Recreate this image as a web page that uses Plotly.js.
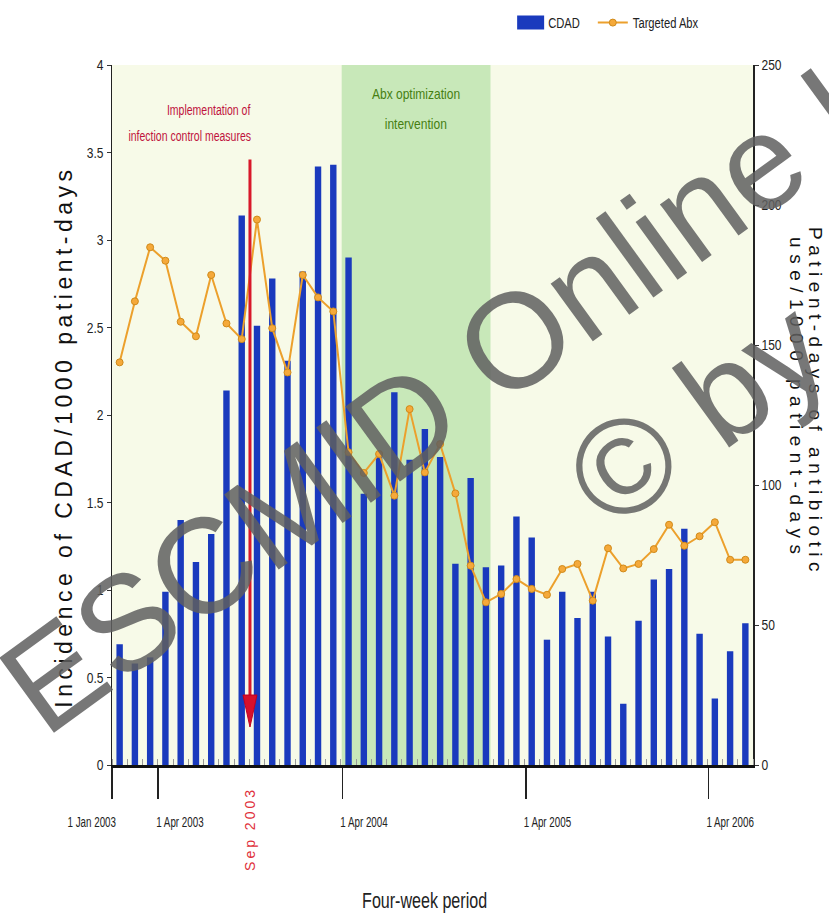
<!DOCTYPE html>
<html>
<head>
<meta charset="utf-8">
<script src="https://cdn.plot.ly/plotly-3.0.1.min.js"></script>
<style>
  html, body { margin: 0; padding: 0; background: #ffffff; }
  #chart { width: 829px; height: 919px; }
</style>
</head>
<body>
<div id="chart"></div>
<script>
// ---- Data ----
// CDAD incidence per 1000 patient-days, one value per four-week period (42 periods)
const cdad = [0.69, 0.58, 0.615, 0.99, 1.40, 1.16, 1.32, 2.14, 3.14, 2.51,
              2.78, 2.31, 2.82, 3.42, 3.43, 2.90, 1.55, 1.78, 2.13, 1.745,
              1.92, 1.76, 1.15, 1.64, 1.13, 1.14, 1.42, 1.30, 0.716, 0.99,
              0.84, 0.99, 0.735, 0.35, 0.825, 1.06, 1.12, 1.35, 0.75, 0.38,
              0.65, 0.81];
// Targeted antibiotic use, patient-days / 1000 patient-days
const targetedAbx = [143.8, 165.6, 184.9, 180.1, 158.3, 153.1, 175, 157.7, 152.1, 194.8,
                     156, 140.2, 175, 167, 162, 111.7, 104.3, 111.1, 96.2, 127.1,
                     104.5, 114.6, 97, 71.2, 58.1, 61.1, 66.4, 62.9, 60.8, 70,
                     71.8, 58.7, 77.4, 70.2, 71.8, 77.1, 85.8, 78.3, 81.7, 86.7,
                     73.3, 73.3];
// Date tick labels and where they fall on the four-week-period scale
const xTickLabels = ['1 Jan 2003', '1 Apr 2003', '1 Apr 2004', '1 Apr 2005', '1 Apr 2006'];
const xTickPeriods = [0, 3.03, 15.09, 27.11, 39.08];
// Events (in period units)
const infectionControlStart = 9.04;   // Sep 2003
const abxInterventionStart = 15.05;
const abxInterventionEnd = 24.8;

const seriesNames = ['CDAD', 'Targeted Abx'];

// ---- Styling ----
const ARIAL = '"Liberation Sans", Arial, sans-serif';
const periodX = cdad.map((_, i) => i + 0.5);
const nPeriods = cdad.length;

const traces = [
  {
    type: 'bar', name: seriesNames[0],
    x: periodX, y: cdad, width: 0.42,
    marker: { color: '#1a3abd', line: { width: 0 } },
    xaxis: 'x', yaxis: 'y'
  },
  {
    type: 'scatter', mode: 'lines+markers', name: seriesNames[1],
    x: periodX, y: targetedAbx,
    line: { color: '#eca02c', width: 2 },
    marker: { color: '#f5a93a', size: 7, line: { color: '#d08a1a', width: 1 } },
    xaxis: 'x', yaxis: 'y2'
  }
];

const layout = {
  width: 829, height: 919,
  margin: { l: 112, r: 76, t: 65, b: 154, autoexpand: false },
  paper_bgcolor: '#ffffff',
  plot_bgcolor: '#f7fae8',
  showlegend: true,
  legend: {
    orientation: 'h', x: 0.618, xanchor: 'left', y: 1.06, yanchor: 'middle',
    font: { family: ARIAL, size: 14, color: '#222' },
    bgcolor: 'rgba(0,0,0,0)', itemwidth: 30, traceorder: 'normal'
  },
  xaxis: {
    range: [0, nPeriods],
    tickmode: 'array', tickvals: xTickPeriods, ticktext: xTickLabels, tickangle: 0,
    ticks: 'outside', ticklen: 31, tickwidth: 1.5, tickcolor: '#222',
    ticklabelstandoff: 12,
    minor: { tickmode: 'linear', tick0: 0, dtick: 1, ticks: 'inside', ticklen: 6, tickwidth: 1, tickcolor: '#999', showgrid: false },
    showline: true, linewidth: 2.5, linecolor: '#111',
    showgrid: false, zeroline: false,
    tickfont: { family: ARIAL, size: 14, color: '#222' }
  },
  yaxis: {
    range: [0, 4], dtick: 0.5, tick0: 0,
    ticks: 'outside', ticklen: 4, tickcolor: '#333',
    showline: true, linewidth: 1.5, linecolor: '#222',
    showgrid: false, zeroline: false,
    tickfont: { family: ARIAL, size: 15, color: '#222' }
  },
  yaxis2: {
    overlaying: 'y', side: 'right',
    range: [0, 250], dtick: 50, tick0: 0,
    ticks: 'outside', ticklen: 4, tickcolor: '#333',
    showline: true, linewidth: 1.5, linecolor: '#222',
    showgrid: false, zeroline: false,
    tickfont: { family: ARIAL, size: 15, color: '#222' }
  },
  shapes: [
    { type: 'rect', layer: 'below', xref: 'x', yref: 'paper',
      x0: abxInterventionStart, x1: abxInterventionEnd, y0: 0, y1: 1,
      fillcolor: '#c8e8b9', line: { width: 0 } },
    { type: 'line', layer: 'above', xref: 'x', yref: 'y',
      x0: infectionControlStart, x1: infectionControlStart, y0: 3.46, y1: 0.35,
      line: { color: '#d8182a', width: 3 } },
    { type: 'path', layer: 'above', xref: 'x', yref: 'y',
      xsizemode: 'pixel', ysizemode: 'pixel',
      xanchor: infectionControlStart, yanchor: 0.217,
      path: 'M-7,32 L7,32 L0,0 Z',
      fillcolor: '#d8102a', line: { color: '#c00020', width: 1 } }
  ],
  annotations: [
    { text: 'Implementation of', xref: 'x', yref: 'paper', x: 6.29, y: 0.936,
      xanchor: 'center', yanchor: 'middle', showarrow: false,
      font: { family: ARIAL, size: 14, color: '#c0123c' } },
    { text: 'infection control measures', xref: 'x', yref: 'paper', x: 5.08, y: 0.899,
      xanchor: 'center', yanchor: 'middle', showarrow: false,
      font: { family: ARIAL, size: 14, color: '#c0123c' } },
    { text: 'Abx optimization', xref: 'x', yref: 'paper', x: 19.92, y: 0.96,
      xanchor: 'center', yanchor: 'middle', showarrow: false,
      font: { family: ARIAL, size: 15, color: '#467f12' } },
    { text: 'intervention', xref: 'x', yref: 'paper', x: 19.92, y: 0.916,
      xanchor: 'center', yanchor: 'middle', showarrow: false,
      font: { family: ARIAL, size: 15, color: '#467f12' } },
    { text: 'Sep 2003', xref: 'x', yref: 'paper', x: infectionControlStart, y: -0.0914,
      textangle: -90, xanchor: 'center', yanchor: 'middle', showarrow: false,
      font: { family: ARIAL, size: 14, color: '#e0303a' } },
    { text: 'Incidence of CDAD/1000 patient-days', xref: 'paper', yref: 'paper',
      x: -0.0749, y: 0.47, textangle: -90, xanchor: 'center', yanchor: 'middle', showarrow: false,
      font: { family: ARIAL, size: 23, color: '#111' } },
    { text: 'Patient-days of antibiotic', xref: 'paper', yref: 'paper',
      x: 1.098, y: 0.518, textangle: 90, xanchor: 'center', yanchor: 'middle', showarrow: false,
      font: { family: ARIAL, size: 19, color: '#111' } },
    { text: 'use/1000 patient-days', xref: 'paper', yref: 'paper',
      x: 1.068, y: 0.523, textangle: 90, xanchor: 'center', yanchor: 'middle', showarrow: false,
      font: { family: ARIAL, size: 19, color: '#111' } },
    { text: 'Four-week period', xref: 'paper', yref: 'paper',
      x: 0.4875, y: -0.193, xanchor: 'center', yanchor: 'middle', showarrow: false,
      font: { family: ARIAL, size: 22, color: '#222' } },
    // watermark
    { text: 'ESCMID Online Library', xref: 'paper', yref: 'paper',
      x: 0.738, y: 0.679, textangle: -36, xanchor: 'center', yanchor: 'middle', showarrow: false,
      font: { family: ARIAL, size: 135, color: 'rgba(95,95,95,0.85)' } },
    { text: '© by author', xref: 'paper', yref: 'paper',
      x: 1.178, y: 0.679, textangle: -36, xanchor: 'center', yanchor: 'middle', showarrow: false,
      font: { family: ARIAL, size: 135, color: 'rgba(95,95,95,0.85)' } }
  ]
};

// letter spacing for the widely tracked titles
const spacing = {
  'Incidence of CDAD/1000 patient-days': '4.5px',
  'Patient-days of antibiotic': '5.5px',
  'use/1000 patient-days': '6.5px',
  'Sep 2003': '3px'
};
// horizontal compression to imitate the narrow typeface of the original
const narrowAnn = {
  'Implementation of': 0.75,
  'infection control measures': 0.75,
  'Abx optimization': 0.8,
  'intervention': 0.8,
  'Four-week period': 0.73
};

function condense(el, f) {
  const len = el.getComputedTextLength();
  if (len > 0) {
    el.setAttribute('textLength', (len * f).toFixed(1));
    el.setAttribute('lengthAdjust', 'spacingAndGlyphs');
  }
}

Plotly.newPlot('chart', traces, layout, { displayModeBar: false, staticPlot: true }).then(() => {
  const gd = document.getElementById('chart');
  gd.querySelectorAll('.annotation-text').forEach(el => {
    const t = el.textContent;
    if (spacing[t]) el.style.letterSpacing = spacing[t];
    if (narrowAnn[t]) condense(el, narrowAnn[t]);
  });
  gd.querySelectorAll('.xtick text').forEach((el, i) => {
    condense(el, 0.7);
    if (i === 0) { el.setAttribute('text-anchor', 'end'); el.setAttribute('dx', '4'); }
    else { el.setAttribute('text-anchor', 'start'); el.setAttribute('dx', '-2'); }
  });
  gd.querySelectorAll('.ytick text, .y2tick text').forEach(el => condense(el, 0.8));
  gd.querySelectorAll('.legendtext').forEach(el => condense(el, 0.8));
  // wide rectangle swatch for the bar series, as in the original legend
  const barSwatch = gd.querySelector('.legend .traces .legendpoints path');
  if (barSwatch) barSwatch.setAttribute('d', 'M-11,-7H16V7H-11Z');
});
</script>
</body>
</html>
